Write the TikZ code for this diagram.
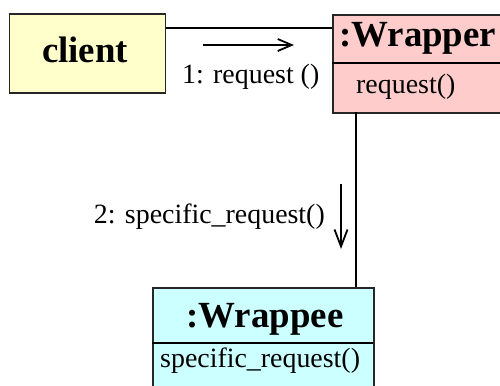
\documentclass[tikz,border=0pt]{standalone}
\usepackage{fontspec}
\setmainfont{Liberation Serif}
\usetikzlibrary{arrows.meta}

\begin{document}
\begin{tikzpicture}[x=1bp,y=-1bp,
  objbox/.style={draw=black!85, line width=1.8bp, rectangle, inner sep=0pt, anchor=north west},
  headtxt/.style={font=\fontsize{37}{40}\selectfont\bfseries, inner sep=0pt},
  optxt/.style={font=\fontsize{28}{32}\selectfont, inner sep=0pt},
  link/.style={line width=1.8bp, black},
  msg/.style={line width=1.6bp, -{Straight Barb[length=14bp,width=12bp,line width=1.8bp]}}
]
\useasboundingbox (0,0) rectangle (500,385);

% client object
\node[objbox, fill={rgb,255:red,255;green,255;blue,204}, minimum width=156bp, minimum height=79bp] (client) at (8.5,13) {};
\node[headtxt, anchor=base] (clientname) at (85,62) {client};

% :Wrapper object (runs past the right edge)
\node[objbox, fill={rgb,255:red,255;green,204;blue,204}, minimum width=190bp, minimum height=98bp] (wrapper) at (332,14) {};
\coordinate (wrapdivL) at (332,63);
\coordinate (wrapdivR) at (522,63);
\draw[link] (wrapdivL) -- (wrapdivR);
\node[headtxt, anchor=base west] (wrappername) at (339,46) {:Wrapper};
\node[optxt, anchor=base west] (wrapperop) at (356,93) {request()};

% :Wrappee object (runs past the bottom edge)
\node[objbox, fill={rgb,255:red,204;green,255;blue,255}, minimum width=221bp, minimum height=120bp] (wrappee) at (152,287) {};
\coordinate (weedivL) at (152,343);
\coordinate (weedivR) at (373,343);
\draw[link] (weedivL) -- (weedivR);
\node[headtxt, anchor=base] (wrappeename) at (265,327) {:Wrappee};
\node[optxt, anchor=base west] (wrappeeop) at (160,367) {specific\_request()};

% links between the objects
\coordinate (c2w) at (client.east |- 0,28);
\coordinate (w2c) at (wrapper.west |- 0,28);
\draw[link] (c2w) -- (w2c);
\coordinate (wtop) at (356,112);
\coordinate (wbot) at (356,287);
\draw[link] (wtop) -- (wbot);

% messages
\coordinate (m1s) at (203,45);
\coordinate (m1e) at (294,45);
\draw[msg] (m1s) -- (m1e);
\node[optxt, anchor=base west] (m1) at (182,83) {1: request ()};

\coordinate (m2s) at (341,184);
\coordinate (m2e) at (341,249);
\draw[msg, -{Straight Barb[length=17bp,width=13bp,line width=1.8bp]}] (m2s) -- (m2e);
\node[optxt, anchor=base east] (m2) at (325,223) {2: specific\_request()};
\end{tikzpicture}
\end{document}
